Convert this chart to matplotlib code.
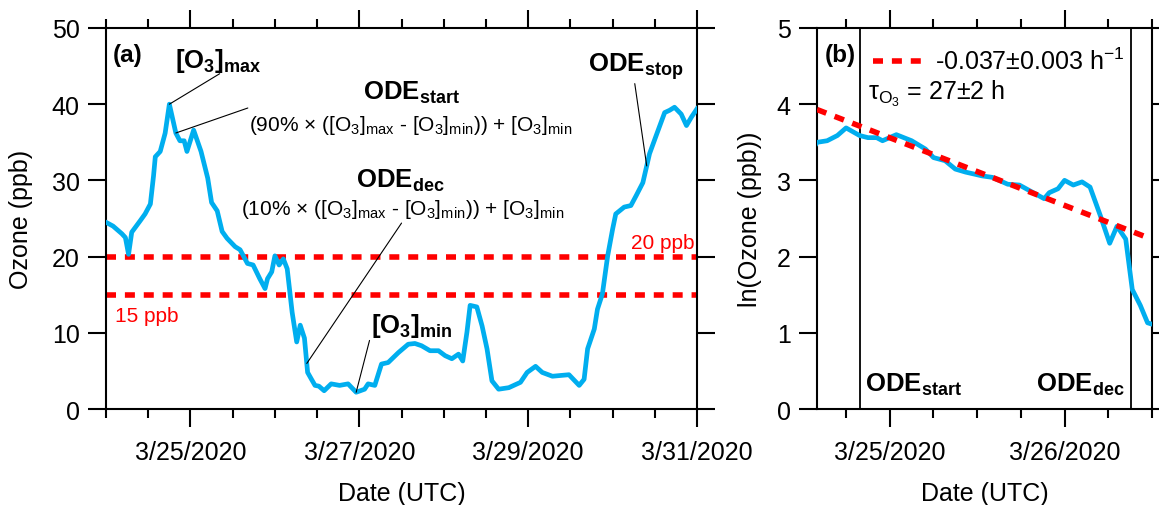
import numpy as np
import matplotlib
matplotlib.use('Agg')
import matplotlib.pyplot as plt
import matplotlib.dates as mdates

plt.rcParams['font.family'] = ['Liberation Sans', 'DejaVu Sans']
plt.rcParams['mathtext.default'] = 'regular'

# ozone record, hours after 3/24/2020 00:00 UTC
hours = [0, 2, 4.5, 5.5, 6.4, 7.3, 9.7, 11.1, 12.6, 13.5, 14, 15.4, 16.8, 18,
         19.85, 21, 22.2, 23, 24.9, 27, 28.9, 30, 31.6, 33, 34.4, 36.7, 38.1,
         40.2, 41.8, 43.7, 45.2, 45.9, 47.1, 48, 49.2, 50.4, 51.5, 52.9, 54.2,
         55.2, 56.4, 57.3, 58.4, 59.4, 60.5, 62, 64, 66.4, 68.8, 71.1, 73.5,
         74.5, 76.4, 78.3, 80.2, 83.1, 85.9, 87.8, 89.7, 92.1, 94.5, 96.4, 98.3,
         100.2, 101.4, 102.6, 103.5, 105.4, 106.9, 108.3, 109.7, 111.6, 114.5,
         117.8, 119.7, 122.1, 124, 126.9, 129.2, 131.6, 134.5, 135.9, 136.9,
         138.8, 139.7, 141.1, 142.6, 144, 144.9, 147.3, 149.2, 150.7, 152.6,
         154.5, 156.4, 158.8, 160.2, 161.6, 163.5, 165, 166.4, 168]
ozone = [24.5, 24.0, 23.0, 22.5, 20.3, 23.2, 24.7, 25.6, 26.9, 30.6, 33.1, 33.8,
         36.2, 40.0, 36.2, 35.2, 35.2, 33.8, 36.6, 33.8, 30.3, 27.1, 26.0, 23.3,
         22.4, 21.3, 20.9, 19.1, 18.9, 17.1, 15.8, 17.1, 18.0, 20.1, 18.9, 19.7,
         18.4, 12.7, 8.8, 11.0, 9.3, 4.8, 3.9, 3.1, 3.0, 2.4, 3.3, 3.1, 3.3, 2.2,
         2.6, 3.3, 3.1, 5.9, 6.1, 7.4, 8.5, 8.6, 8.3, 7.65, 7.65, 7.0, 6.6, 7.2,
         6.3, 10.1, 13.6, 13.4, 10.9, 7.9, 3.7, 2.6, 2.8, 3.5, 4.8, 5.6, 4.8, 4.3,
         4.4, 4.5, 3.1, 3.9, 7.9, 10.5, 13.1, 15.1, 20.1, 23.6, 25.6, 26.5, 26.7,
         28.0, 29.7, 33.5, 35.9, 38.9, 39.2, 39.6, 38.7, 37.2, 38.3, 39.4]

thresholds = [20, 15]          # ppb
ode_stop_hour = 153.7
fit_slope = -0.037             # h-1
fit_slope_err = 0.003
fit_start = 3.93               # ln(ppb) at start of panel b
tau, tau_err = 27, 2
b_start, b_end = 14, 60        # hours shown in panel b

blue = '#00AEEF'
red = '#FF0000'

hours = np.array(hours)
ozone = np.array(ozone)
t0 = mdates.date2num(np.datetime64('2020-03-24T00:00'))


def hdate(h):
    return t0 + np.asarray(h) / 24.0


x = hdate(hours)
imax = np.argmax(ozone)
imin = np.argmin(ozone)
o3max, o3min = ozone[imax], ozone[imin]
thr90 = 0.9 * (o3max - o3min) + o3min
thr10 = 0.1 * (o3max - o3min) + o3min


def crossing(thr):
    i = imax + np.argmax(ozone[imax:] <= thr)
    return np.interp(thr, [ozone[i], ozone[i - 1]], [hours[i], hours[i - 1]])


h_start = crossing(thr90)
h_dec = crossing(thr10)

fig = plt.figure(figsize=(11.59, 5.06), dpi=100)
ax1 = fig.add_axes([0.0915, 0.1897, 0.5099, 0.7530])
ax2 = fig.add_axes([0.7049, 0.1897, 0.2890, 0.7530])

for ax in (ax1, ax2):
    for s in ax.spines.values():
        s.set_linewidth(1.5)
    ax.tick_params(which='both', direction='out', top=True, right=True,
                   width=1.5, labelsize=18)
    ax.tick_params(which='major', length=13, pad=6)
    ax.tick_params(axis='x', which='major', pad=9.5)
    ax.tick_params(which='minor', length=6.5)
    ax.xaxis.set_major_formatter(mdates.DateFormatter('%-m/%d/%Y'))
    ax.set_xlabel('Date (UTC)', fontsize=18)
    ax.xaxis.set_label_coords(0.5, -0.19)
    ax.xaxis.label.set_va('top')

# ---- (a) ----
ax1.plot(x, ozone, color=blue, lw=3.4, solid_joinstyle='round', zorder=3)
for thr in thresholds:
    ax1.axhline(thr, color=red, lw=4, dashes=(1.8, 1.6), zorder=2)
ax1.set_xlim(hdate(0), hdate(168))
ax1.set_ylim(0, 50)
ax1.set_yticks(np.arange(0, 51, 10))
ax1.xaxis.set_major_locator(mdates.DayLocator(interval=2))
ax1.xaxis.set_minor_locator(mdates.HourLocator(byhour=[0, 12]))
ax1.set_ylabel('Ozone (ppb)', fontsize=18)
ax1.yaxis.set_label_coords(-0.1235, 0.5)

ax1.text(0.012, 0.93, '(a)', transform=ax1.transAxes, fontsize=17.5,
         fontweight='bold', va='center', ha='left')


def leader(ax, h0, y0, h1, y1):
    ax.annotate('', xy=(hdate(h0), y0), xytext=(hdate(h1), y1),
                arrowprops=dict(arrowstyle='-', color='k', lw=0.8,
                                shrinkA=0, shrinkB=0))


big = dict(fontsize=18.5, fontweight='bold', va='baseline')
small = dict(fontsize=15, va='baseline', ha='center')

ax1.text(hdate(19.7), 44.9, '[O$_3$]$_{max}$', ha='left', **big)
leader(ax1, hours[imax], o3max, 32.3, 44.0)

ax1.text(hdate(86.9), 40.7, 'ODE$_{start}$', ha='center', **big)
ax1.text(hdate(86.6), 36.6,
         '(90% × ([O$_3$]$_{max}$ - [O$_3$]$_{min}$)) + [O$_3$]$_{min}$', **small)
leader(ax1, h_start, thr90, 40.3, 39.5)

ax1.text(hdate(83.7), 29.1, 'ODE$_{dec}$', ha='center', **big)
ax1.text(hdate(84.3), 25.6,
         '(10% × ([O$_3$]$_{max}$ - [O$_3$]$_{min}$)) + [O$_3$]$_{min}$', **small)
leader(ax1, h_dec, thr10, 84.0, 24.4)

ax1.text(hdate(75.4), 10.1, '[O$_3$]$_{min}$', ha='left', **big)
leader(ax1, hours[imin], o3min, 74.9, 9.0)

ax1.text(hdate(136.9), 44.4, 'ODE$_{stop}$', ha='left', **big)
leader(ax1, ode_stop_hour, np.interp(ode_stop_hour, hours, ozone), 150.3, 42.7)

ax1.text(hdate(167.4), 21.1, '%d ppb' % thresholds[0], color=red,
         fontsize=15, ha='right', va='baseline')
ax1.text(hdate(2.6), 11.5, '%d ppb' % thresholds[1], color=red,
         fontsize=15, ha='left', va='baseline')

# ---- (b) ----
ax2.plot(x, np.log(ozone), color=blue, lw=3.4, solid_joinstyle='round', zorder=3)
fit_h = np.array([b_start, 59.5])
fit_line, = ax2.plot(hdate(fit_h), fit_start + fit_slope * (fit_h - b_start),
                     color=red, lw=4, dashes=(1.8, 1.6), zorder=4,
                     label='%.3f±%.3f h$^{-1}$' % (fit_slope, fit_slope_err))
ax2.axvline(hdate(h_start), color='k', lw=1.3, zorder=1)
ax2.axvline(hdate(h_dec), color='k', lw=1.3, zorder=1)
ax2.set_xlim(hdate(b_start), hdate(b_end))
ax2.set_ylim(0, 5)
ax2.set_yticks(np.arange(0, 6, 1))
ax2.xaxis.set_major_locator(mdates.DayLocator())
ax2.xaxis.set_minor_locator(mdates.HourLocator(byhour=[0, 6, 12, 18]))
ax2.set_ylabel('ln(Ozone (ppb))', fontsize=18)
ax2.yaxis.set_label_coords(-0.164, 0.5)

ax2.text(0.024, 0.93, '(b)', transform=ax2.transAxes, fontsize=17.5,
         fontweight='bold', va='center', ha='left')
ax2.legend(handles=[fit_line], loc='center left', bbox_to_anchor=(0.167, 0.913),
           frameon=False, borderpad=0, borderaxespad=0, handlelength=2.0,
           handletextpad=0.5, fontsize=18)
ax2.text(0.152, 0.814, 'τ$_{O_3}$ = %d±%d h' % (tau, tau_err),
         transform=ax2.transAxes, fontsize=18, va='baseline', ha='left')

ax2.annotate('ODE$_{start}$', xy=(hdate(h_start), 0.047),
             xycoords=('data', 'axes fraction'), xytext=(4, 0),
             textcoords='offset points', ha='left', **big)
ax2.annotate('ODE$_{dec}$', xy=(hdate(h_dec), 0.047),
             xycoords=('data', 'axes fraction'), xytext=(-4, 0),
             textcoords='offset points', ha='right', **big)

fig.savefig('out.png', dpi=100)
